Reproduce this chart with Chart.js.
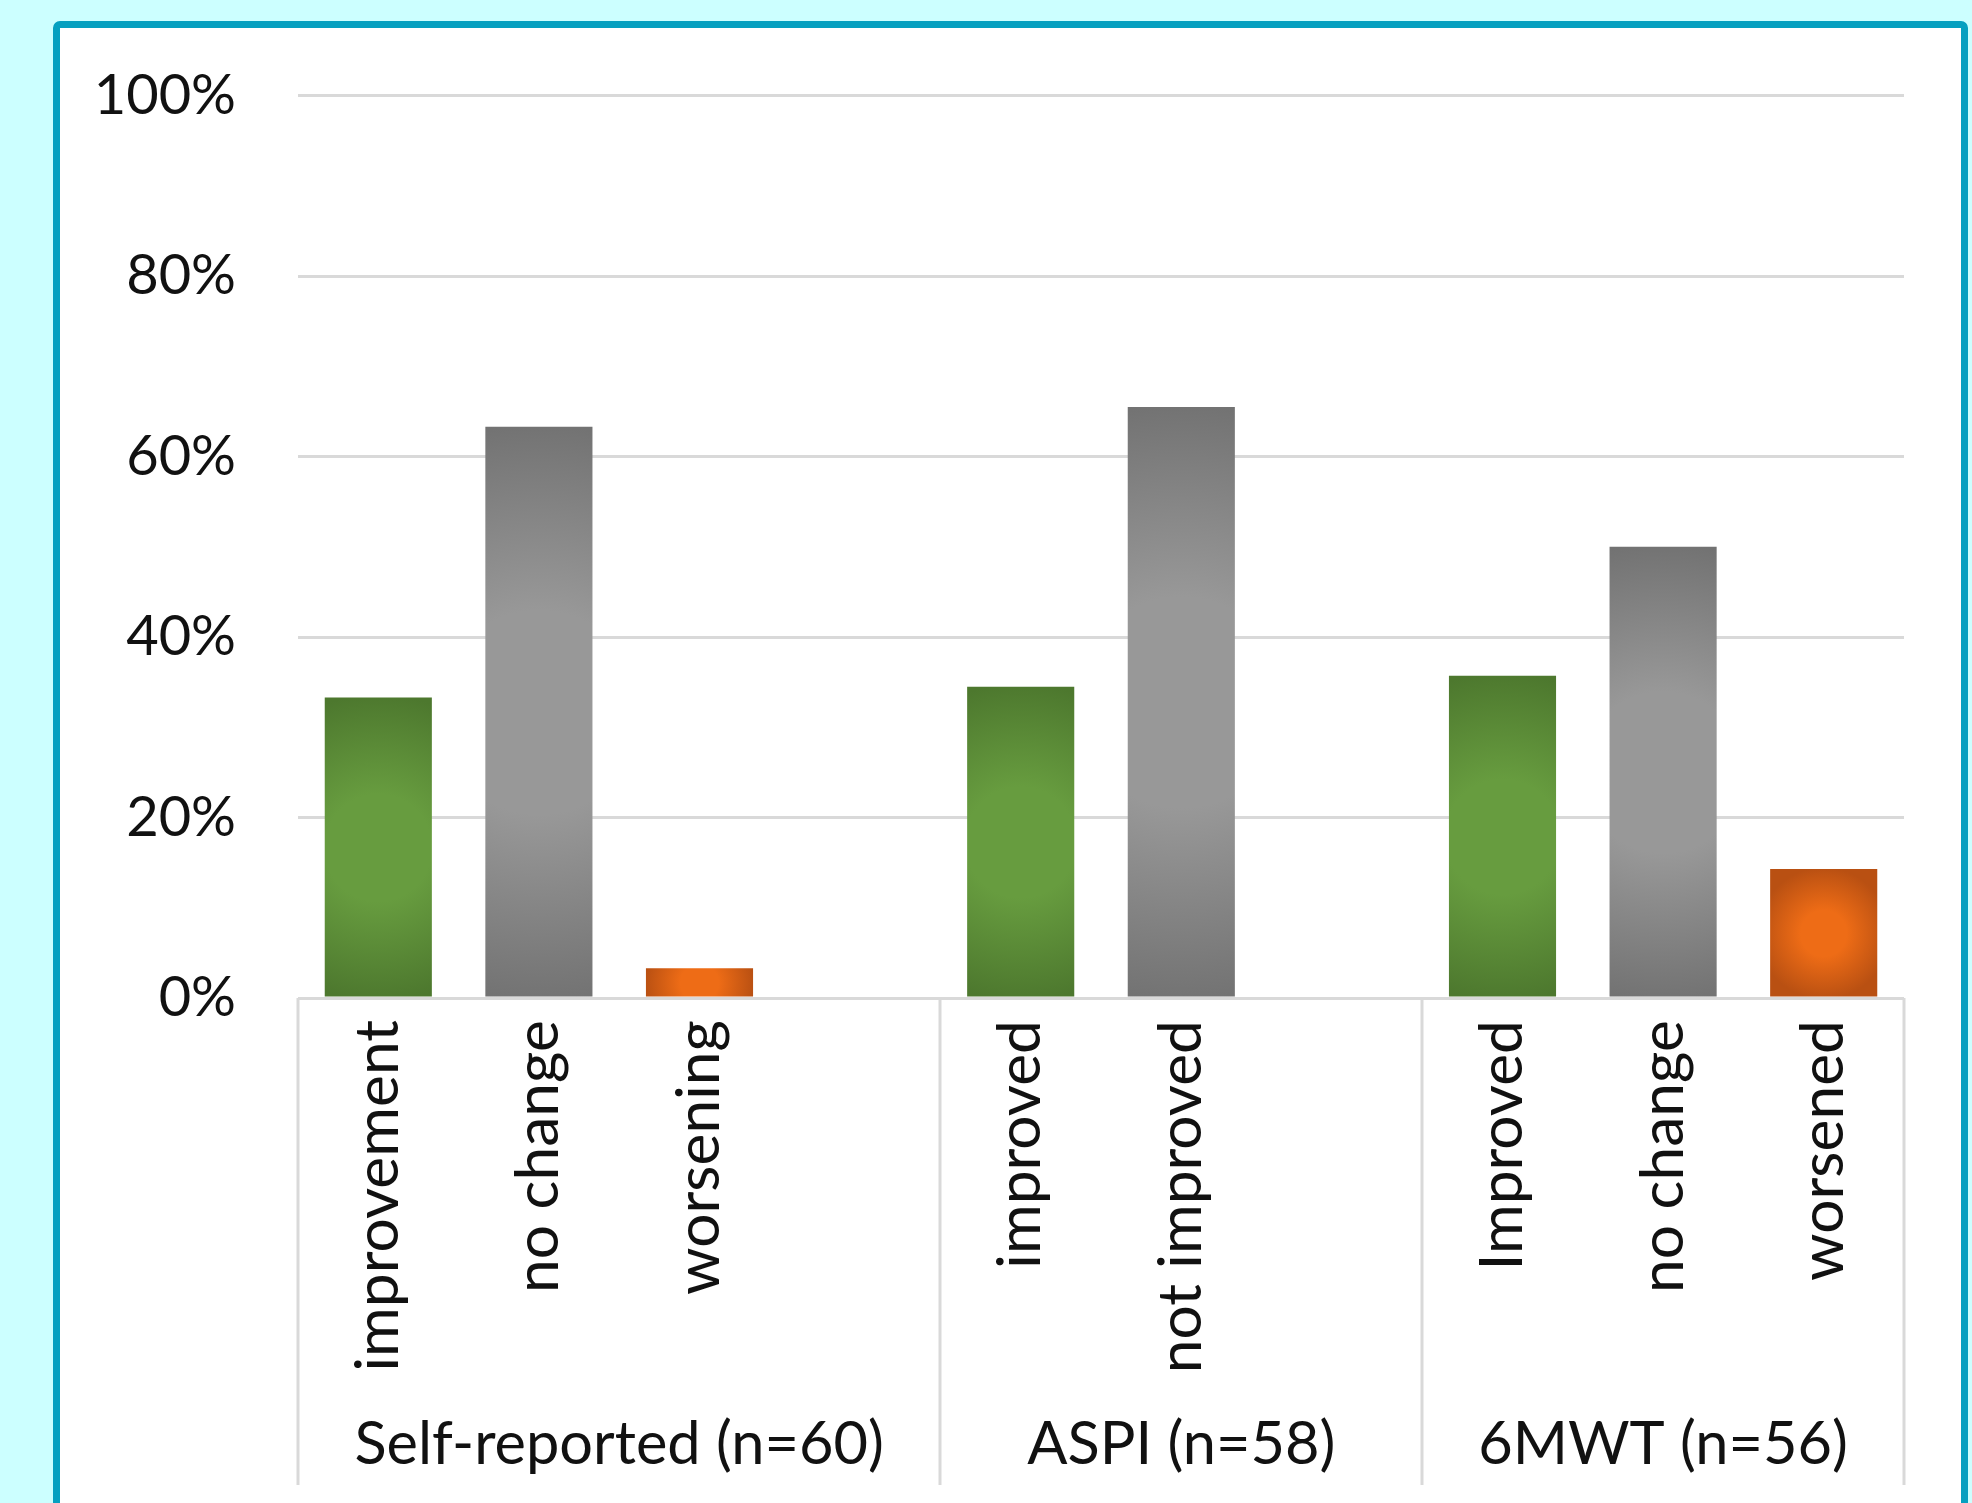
<!DOCTYPE html>
<html>
<head>
<meta charset="utf-8">
<script src="https://cdn.jsdelivr.net/npm/chart.js@4/dist/chart.umd.min.js"></script>
<style>
  html, body { margin: 0; padding: 0; width: 1972px; height: 1503px; overflow: hidden; background: #CCFFFF; }
  #frame { position: absolute; left: 53px; top: 21px; width: 1915px; height: 1600px; box-sizing: border-box;
           border: 7px solid #05A0C0; border-radius: 7px; background: #FFFFFF; }
  #c { position: absolute; left: 0; top: 0; }
</style>
</head>
<body>
<div id="frame"></div>
<canvas id="c" width="1972" height="1503"></canvas>
<script>
// ---- data ----
const categories = ['improvement', 'no change', 'worsening', '', 'improved', 'not improved', '', 'Improved', 'no change', 'worsened'];
const values = [33.3, 63.3, 3.3, null, 34.5, 65.5, null, 35.7, 50.0, 14.3];
const outcomeKinds = ['better', 'same', 'worse', null, 'better', 'same', null, 'better', 'same', 'worse'];
const groupLabels = ['Self-reported (n=60)', 'ASPI (n=58)', '6MWT (n=56)'];
const groupSizes = [4, 3, 3];
const yTickValues = [0, 20, 40, 60, 80, 100];
const yTickLabels = ['0%', '20%', '40%', '60%', '80%', '100%'];

// ---- styles ----
const palette = {
  better: { center: '#679C3F', edge: '#4D782E' },
  same:   { center: '#989898', edge: '#727272' },
  worse:  { center: '#EE6C16', edge: '#B95012' }
};
const FONT = 'Lato, "Open Sans", sans-serif';
const TEXT = '#111111';
const LINE = '#D9D9D9';

function barFill(ctx) {
  const kind = outcomeKinds[ctx.dataIndex];
  if (!kind) return 'rgba(0,0,0,0)';
  const p = palette[kind];
  const chart = ctx.chart;
  const xs = chart.scales.x, ys = chart.scales.y;
  if (!chart.chartArea || !xs || !ys) return p.center;
  const v = values[ctx.dataIndex];
  const cx = xs.getPixelForValue(ctx.dataIndex);
  const slot = Math.abs(xs.getPixelForValue(1) - xs.getPixelForValue(0));
  const hw = slot * 0.667 / 2;
  const top = ys.getPixelForValue(v), bot = ys.getPixelForValue(0);
  const hh = Math.abs(bot - top) / 2;
  const cy = (top + bot) / 2;
  const R = Math.max(hw, hh) * 1.02;
  if (!isFinite(cx) || !isFinite(cy) || R <= 0) return p.center;
  const g = chart.ctx.createRadialGradient(cx, cy, 0, cx, cy, R);
  g.addColorStop(0, p.center);
  g.addColorStop(0.35, p.center);
  g.addColorStop(1, p.edge);
  return g;
}

const groupPlugin = {
  id: 'groupAxis',
  afterDraw(chart) {
    const xs = chart.scales.x;
    const ctx = chart.ctx;
    const half = (xs.getPixelForValue(1) - xs.getPixelForValue(0)) / 2;
    const lineBottom = xs.bottom - 18;
    ctx.save();
    ctx.strokeStyle = LINE;
    ctx.lineWidth = 3;
    let start = 0;
    const bounds = [xs.getPixelForValue(0) - half];
    groupSizes.forEach((n) => { start += n; bounds.push(xs.getPixelForValue(start - 1) + half); });
    bounds.forEach((bx) => {
      ctx.beginPath();
      ctx.moveTo(Math.round(bx), xs.top);
      ctx.lineTo(Math.round(bx), lineBottom);
      ctx.stroke();
    });
    ctx.fillStyle = TEXT;
    ctx.font = '59.5px ' + FONT;
    ctx.textAlign = 'center';
    ctx.textBaseline = 'alphabetic';
    groupLabels.forEach((lab, i) => {
      ctx.fillText(lab, (bounds[i] + bounds[i + 1]) / 2, xs.bottom - 39);
    });
    ctx.restore();
  }
};

function draw() {
  new Chart(document.getElementById('c'), {
    type: 'bar',
    data: {
      labels: categories,
      datasets: [{
        data: values,
        backgroundColor: barFill,
        borderWidth: 0,
        barPercentage: 0.667,
        categoryPercentage: 1.0
      }]
    },
    options: {
      responsive: false,
      animation: false,
      devicePixelRatio: 1,
      layout: { padding: { top: 93, right: 68, bottom: 0, left: 0 } },
      plugins: { legend: { display: false }, tooltip: { enabled: false } },
      scales: {
        y: {
          min: 0, max: 100,
          afterFit: (s) => { s.width = 298; },
          afterBuildTicks: (s) => { s.ticks = yTickValues.map(v => ({ value: v })); },
          border: { display: false },
          grid: { color: LINE, lineWidth: 3, drawTicks: false },
          ticks: {
            padding: 62,
            color: TEXT,
            font: { family: FONT, size: 56 },
            callback: (v) => yTickLabels[yTickValues.indexOf(v)]
          }
        },
        x: {
          afterFit: (s) => { s.height = 505; },
          border: { display: false },
          grid: { display: false, drawTicks: false },
          ticks: {
            autoSkip: false,
            maxRotation: 90,
            minRotation: 90,
            padding: 22,
            color: TEXT,
            font: { family: FONT, size: 60.5 }
          }
        }
      }
    },
    plugins: [groupPlugin]
  });
}

if (document.fonts && document.fonts.load) {
  document.fonts.load('58px Lato').then(draw, draw);
} else {
  draw();
}
</script>
</body>
</html>
